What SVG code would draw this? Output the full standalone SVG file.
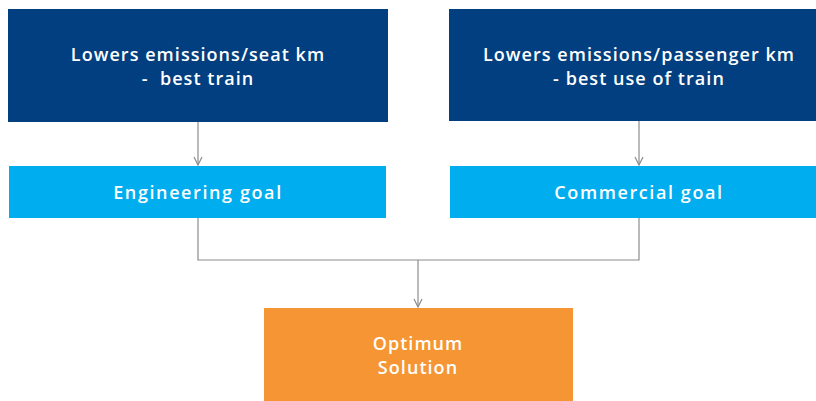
<svg xmlns="http://www.w3.org/2000/svg" width="816" height="401" viewBox="0 0 816 401">
<defs>
<style>
.t{font-family:"Open Sans","Liberation Sans",sans-serif;font-weight:600;font-size:18px;fill:#ffffff;text-anchor:middle;letter-spacing:1.05px;white-space:pre}
.g{letter-spacing:1.6px}
.c{fill:none;stroke:#8c8c8c;stroke-width:1.2}
</style>
<marker id="ah" viewBox="0 0 10 10" refX="9" refY="5" markerWidth="10" markerHeight="10" markerUnits="userSpaceOnUse" orient="auto">
<path d="M1,1 L9,5 L1,9" fill="none" stroke="#8c8c8c" stroke-width="1.2"/>
</marker>
</defs>
<rect width="816" height="401" fill="#ffffff"/>
<g id="connectors">
<path class="c" d="M198,122 V165" marker-end="url(#ah)"/>
<path class="c" d="M639,121 V165" marker-end="url(#ah)"/>
<path class="c" d="M198,218 V260 H639 V218"/>
<path class="c" d="M418,260 V307" marker-end="url(#ah)"/>
</g>
<g id="n1">
<rect x="8" y="9" width="380" height="113" fill="#023f80"/>
<text class="t" x="198" y="61">Lowers emissions/seat km</text>
<text class="t" x="198" y="85">-  best train</text>
</g>
<g id="n2">
<rect x="449" y="9" width="367" height="112" fill="#023f80"/>
<text class="t" x="639" y="61">Lowers emissions/passenger km</text>
<text class="t" x="639" y="85">- best use of train</text>
</g>
<g id="n3">
<rect x="9" y="166" width="377" height="52" fill="#00aeef"/>
<text class="t g" x="198" y="199">Engineering goal</text>
</g>
<g id="n4">
<rect x="450" y="166" width="366" height="52" fill="#00aeef"/>
<text class="t g" x="639" y="199">Commercial goal</text>
</g>
<g id="n5">
<rect x="264" y="308" width="309" height="93" fill="#f69533"/>
<text class="t" x="418" y="350">Optimum</text>
<text class="t" x="418" y="374">Solution</text>
</g>
</svg>
